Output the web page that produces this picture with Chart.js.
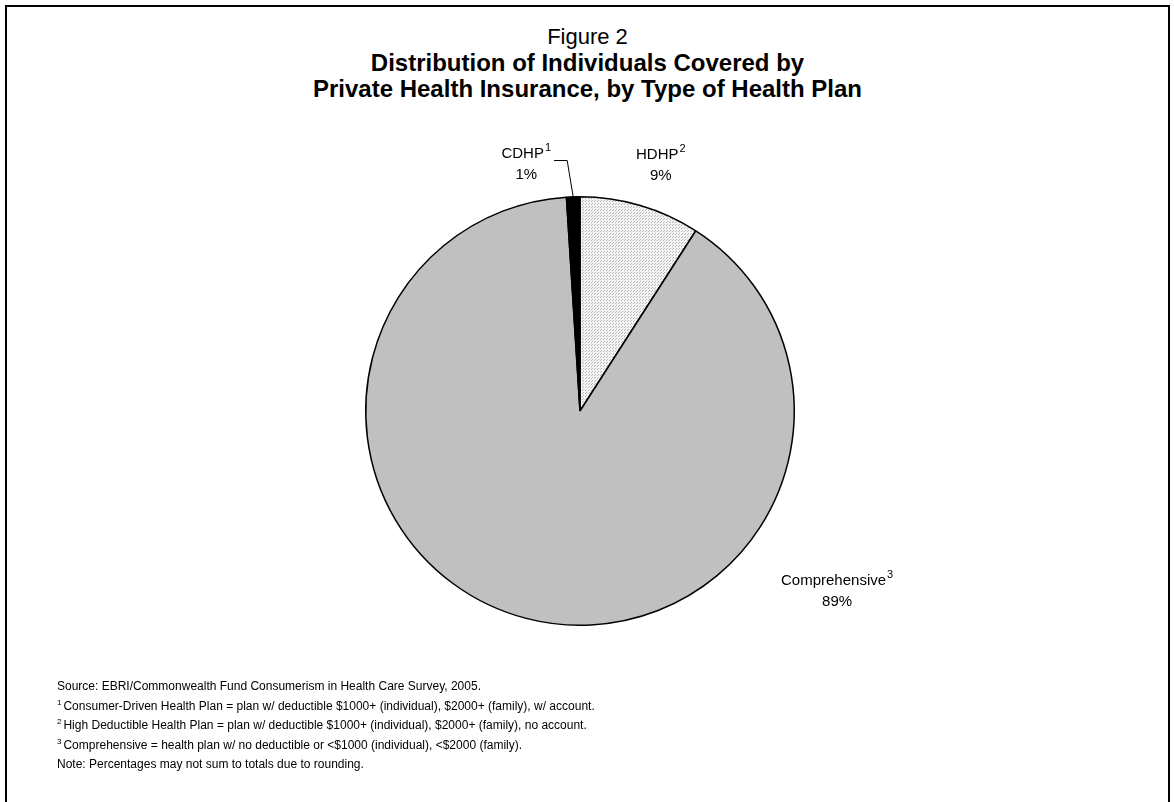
<!DOCTYPE html>
<html>
<head>
<meta charset="utf-8">
<title>Figure 2</title>
<script src="https://cdn.jsdelivr.net/npm/chart.js@4/dist/chart.umd.min.js"></script>
<style>
  html, body { margin: 0; padding: 0; background: #fff; }
  body { width: 1174px; height: 802px; position: relative; overflow: hidden;
         font-family: "Liberation Sans", Arial, Helvetica, sans-serif; color: #000; }
  .frame { position: absolute; left: 5px; top: 5px; width: 1161px; height: 900px;
           border: 2px solid #000; }
  .heading { position: absolute; left: 7px; width: 1161px; top: 24px; text-align: center;
             font-size: 22px; line-height: 26px; }
  .heading b { display: block; font-size: 24px; }
  #pie { position: absolute; left: 0; top: 0; }
  .notes { position: absolute; left: 57px; top: 677px; font-size: 12px; line-height: 19.5px; }
  .notes sup { font-size: 8px; vertical-align: 5px; line-height: 0; margin-right: 2px; }
</style>
</head>
<body>
<div class="frame"></div>
<div class="heading">
  Figure 2
  <b>Distribution of Individuals Covered by</b>
  <b>Private Health Insurance, by Type of Health Plan</b>
</div>
<canvas id="pie" width="1174" height="802"></canvas>
<div class="notes">
  <div>Source: EBRI/Commonwealth Fund Consumerism in Health Care Survey, 2005.</div>
  <div><sup>1</sup>Consumer-Driven Health Plan = plan w/ deductible $1000+ (individual), $2000+ (family), w/ account.</div>
  <div><sup>2</sup>High Deductible Health Plan = plan w/ deductible $1000+ (individual), $2000+ (family), no account.</div>
  <div><sup>3</sup>Comprehensive = health plan w/ no deductible or &lt;$1000 (individual), &lt;$2000 (family).</div>
  <div>Note: Percentages may not sum to totals due to rounding.</div>
</div>

<script>
// Plan types, clockwise from 12 o'clock
const categories = ['HDHP', 'Comprehensive', 'CDHP'];
const footnoteMarks = ['2', '3', '1'];
const shares = [9, 89, 1];

// Fine dotted fill used for the HDHP wedge
function dotPattern() {
    const tile = document.createElement('canvas');
    tile.width = 3;
    tile.height = 3;
    const t = tile.getContext('2d');
    t.fillStyle = '#f4f4f4';
    t.fillRect(0, 0, 3, 3);
    t.fillStyle = '#b8b8b8';
    t.fillRect(0, 0, 1, 1);
    t.fillRect(1, 2, 1, 1);
    return document.createElement('canvas').getContext('2d').createPattern(tile, 'repeat');
}

// Where each label sits, relative to the pie centre in units of radius
const labelSpots = {
    HDHP: { x: 0.377, y: -1.15 },
    Comprehensive: { x: 1.2, y: 0.84 },
    CDHP: { x: -0.251, y: -1.155 }
};

const LABEL_FONT = '15px "Liberation Sans", Arial, sans-serif';
const MARK_FONT = '11px "Liberation Sans", Arial, sans-serif';

const sliceLabels = {
    id: 'sliceLabels',
    afterDatasetsDraw(chart) {
        const ctx = chart.ctx;
        const arcs = chart.getDatasetMeta(0).data;
        ctx.save();
        ctx.fillStyle = '#000';
        ctx.textBaseline = 'middle';
        arcs.forEach((arc, i) => {
            const { x, y, startAngle, endAngle, outerRadius } = arc.getProps(
                ['x', 'y', 'startAngle', 'endAngle', 'outerRadius'], true);
            const name = categories[i];
            const spot = labelSpots[name];
            const cx = x + spot.x * outerRadius;
            const cy = y + spot.y * outerRadius;

            // name with footnote mark
            ctx.font = LABEL_FONT;
            const nameW = ctx.measureText(name).width;
            ctx.font = MARK_FONT;
            const markW = ctx.measureText(footnoteMarks[i]).width;
            const left = cx - (nameW + markW + 1) / 2;
            ctx.textAlign = 'left';
            ctx.font = LABEL_FONT;
            ctx.fillText(name, left, cy - 10);
            ctx.font = MARK_FONT;
            ctx.fillText(footnoteMarks[i], left + nameW + 1, cy - 16);

            ctx.font = LABEL_FONT;
            ctx.textAlign = 'center';
            ctx.fillText(shares[i] + '%', cx, cy + 11);

            // leader line for the thin CDHP wedge, hooked under the name
            if (name === 'CDHP') {
                const mid = (startAngle + endAngle) / 2;
                const ax = x + Math.cos(mid) * outerRadius;
                const ay = y + Math.sin(mid) * outerRadius;
                const hookY = cy - 3;
                const hookX = left + nameW + markW + 4;
                ctx.beginPath();
                ctx.moveTo(ax, ay);
                ctx.lineTo(ax - 6, hookY);
                ctx.lineTo(hookX, hookY);
                ctx.lineWidth = 1;
                ctx.strokeStyle = '#000';
                ctx.stroke();
            }
        });
        ctx.restore();
    }
};

new Chart(document.getElementById('pie'), {
    type: 'pie',
    data: {
        labels: categories,
        datasets: [{
            data: shares,
            backgroundColor: [dotPattern(), '#c0c0c0', '#000000'],
            borderColor: '#000',
            borderWidth: 1.5
        }]
    },
    options: {
        responsive: false,
        animation: false,
        layout: { padding: { left: 365, right: 379, top: 196, bottom: 176 } },
        plugins: {
            legend: { display: false },
            tooltip: { enabled: false }
        }
    },
    plugins: [sliceLabels]
});
</script>
</body>
</html>
